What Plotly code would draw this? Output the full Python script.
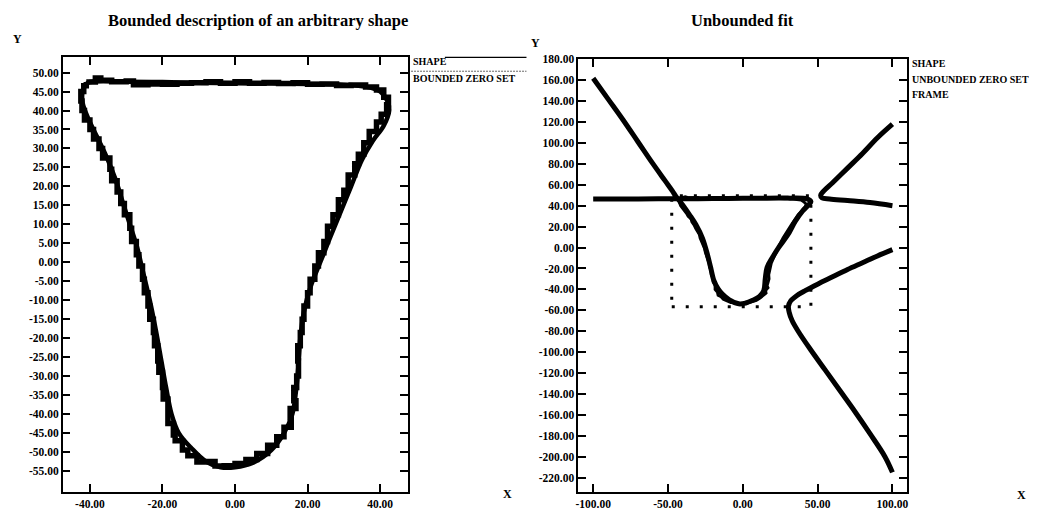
import plotly.graph_objects as go

W, H = 1043, 512

# ---- left panel: sampled boundary of the shape (stepped, noisy) ----
shape_x = [-41, -38.5, -37, -34, -30, -28, -24, -20, -16, -12, -8, -4, 0, 4, 8, 12, 16, 20, 24, 28,
           32, 36, 39, 41, 42.3, 41.8, 40.3, 39, 37, 35.5, 34, 33, 31.2, 30, 28.5, 27, 25.5, 24.5,
           23, 22, 20.7, 20, 19, 18.5, 18, 17.3, 17.5, 17, 16.2, 16.8, 15.2, 15.5, 13.5, 11.5, 9,
           6, 3, 0, -3, -5.5, -8, -10.5, -13, -14.5, -16.5, -17, -18.5, -18.5, -19.8, -20, -21,
           -21.3, -22.2, -22.5, -23.5, -24, -25, -25.5, -26.5, -27.2, -28.5, -29, -30.5, -31.5,
           -32.5, -34, -34.5, -36.5, -37.5, -39, -40, -41.5, -42.2, -42.5, -41.7, -41]
shape_y = [47.5, 48.6, 48, 47.6, 47.8, 46.8, 47, 46.9, 47.2, 47.3, 47.6, 47.2, 47.6, 47.2, 47.4,
           47.1, 47.3, 46.9, 47, 46.6, 46.7, 46.2, 45.4, 43.5, 41.5, 39, 37, 34.5, 31.5, 28.5, 26,
           23, 19, 16.5, 12.5, 9.5, 5.5, 2.5, -1, -4.5, -8, -11.5, -15, -18.5, -22, -26, -30, -33,
           -36.5, -38.5, -41, -43.5, -46, -48.2, -50.4, -52, -53, -53.6, -53.7, -52.5, -52.6, -51,
           -49.5, -47, -45.5, -42.5, -40, -36, -33, -29, -26, -22, -18.5, -15, -11.5, -8, -4.5,
           -1, 2, 5.5, 9, 12.5, 15.5, 18.5, 21.5, 24.5, 27.5, 30, 32.5, 35, 37.5, 40, 42.5, 45,
           46.5, 47.5]

# ---- left panel: smooth bounded zero set ----
zero_x = [-40, -30, -20, -10, 0, 10, 20, 30, 36, 40, 42, 42.5, 41, 38, 35, 32, 29, 26, 23.5, 21,
          19, 18, 17.5, 16.8, 15.8, 13.5, 10, 5, 0, -4, -8, -12, -15.5, -17.5, -19, -20.3, -21.8,
          -23.5, -25.5, -27, -29, -31, -33, -35.5, -38, -40.5, -42, -42, -41, -40]
zero_y = [47.5, 47.6, 47.5, 47.3, 47.2, 47.1, 47, 46.8, 46.3, 45, 42.5, 40, 36, 32, 27, 20, 13, 6,
          0, -6, -13, -20, -27, -34, -40, -45, -49.5, -52.8, -54, -54, -52.5, -49, -45, -40, -33,
          -26, -18, -10, -2, 4, 10, 16, 22, 28, 33, 38, 42, 45, 47, 47.5]

# ---- right panel: unbounded zero set, three branches ----
branch_a_x = [-100, -90, -80, -70, -60, -52, -47, -44.7, -40.3, -35, -31.4, -27, -23.7, -21.5,
              -19.3, -16.5, -13.7, -9, -2.7, 2, 6.2, 11, 14, 15, 16.2, 20, 23.9, 30, 35, 40, 44,
              45.5, 43, 30, 10, -10, -30, -50, -70, -100]
branch_a_y = [162, 142, 122, 101, 80, 64, 54, 48.8, 41, 30, 22, 9, -6.4, -19, -31.7, -39.5, -44.4,
              -50, -53.8, -53, -50.7, -47, -41.2, -30, -19, -9, 0, 12, 25, 35, 41, 44, 46.5, 47.3,
              47.2, 47, 46.8, 46.7, 46.5, 46.4]
branch_b_x = [100, 90, 80, 70, 60, 54, 52, 53, 58, 70, 85, 100]
branch_b_y = [118, 105, 90, 76, 62, 54, 50, 47.5, 46.5, 45, 43, 40]
branch_c_x = [100, 90, 80, 70, 60, 50, 42, 36, 32, 30.5, 31, 33, 37, 45, 55, 65, 75, 85, 95, 100]
branch_c_y = [-2, -8, -14.5, -21, -28, -35, -41, -46, -51, -56, -62, -70, -80, -97, -117, -137,
              -157, -178, -200, -215]

# ---- right panel: bounding frame ----
frame_x = [-47.5, 45.5, 45.5, -47.5, -47.5]
frame_y = [-56.5, -56.5, 49.5, 49.5, -56.5]

# ---- tick values ----
left_xticks = [-40, -20, 0, 20, 40]
left_yticks = [50, 45, 40, 35, 30, 25, 20, 15, 10, 5, 0, -5, -10, -15, -20, -25, -30, -35, -40,
               -45, -50, -55]
right_xticks = [-100, -50, 0, 50, 100]
right_yticks = [180, 160, 140, 120, 100, 80, 60, 40, 20, 0, -20, -40, -60, -80, -100, -120, -140,
                -160, -180, -200, -220]


def fmt(vals):
    return [f"{v:.2f}" for v in vals]


def px_x(p):
    return p / W


def px_y(p):
    return 1 - p / H


FONT = "Liberation Serif"
BLACK = "#000000"

fig = go.Figure()

fig.add_trace(go.Scatter(x=shape_x, y=shape_y, mode="lines", line=dict(color=BLACK, width=5.5, shape="hv"),
                         xaxis="x", yaxis="y", showlegend=False))
fig.add_trace(go.Scatter(x=zero_x, y=zero_y, mode="lines", line=dict(color=BLACK, width=4.5, shape="spline"),
                         xaxis="x", yaxis="y", showlegend=False))

fig.add_trace(go.Scatter(x=shape_x, y=shape_y, mode="lines", line=dict(color=BLACK, width=3),
                         xaxis="x2", yaxis="y2", showlegend=False))
for bx, by in [(branch_a_x, branch_a_y), (branch_b_x, branch_b_y), (branch_c_x, branch_c_y)]:
    fig.add_trace(go.Scatter(x=bx, y=by, mode="lines", line=dict(color=BLACK, width=5, shape="spline"),
                             xaxis="x2", yaxis="y2", showlegend=False))
fig.add_trace(go.Scatter(x=frame_x, y=frame_y, mode="lines",
                         line=dict(color=BLACK, width=3, dash="3px,11px"),
                         xaxis="x2", yaxis="y2", showlegend=False))

axis_common = dict(
    showline=True, linecolor=BLACK, linewidth=1.5, mirror="ticks", ticks="inside", ticklen=8,
    tickcolor=BLACK, tickwidth=1.5, showgrid=False, zeroline=False,
    tickfont=dict(family=FONT, size=11.5, color=BLACK, weight="bold"),
)

fig.update_layout(
    width=W, height=H, margin=dict(l=0, r=0, t=0, b=0),
    paper_bgcolor="white", plot_bgcolor="white",
    xaxis=dict(domain=[px_x(60), px_x(407)], range=[-47.5, 47.7], anchor="y",
               tickvals=left_xticks, ticktext=fmt(left_xticks), **axis_common),
    yaxis=dict(domain=[px_y(492), px_y(52)], range=[-60.6, 54], anchor="x",
               tickvals=left_yticks, ticktext=fmt(left_yticks), **axis_common),
    xaxis2=dict(domain=[px_x(578), px_x(908)], range=[-110, 109.5], anchor="y2",
                tickvals=right_xticks, ticktext=fmt(right_xticks), **axis_common),
    yaxis2=dict(domain=[px_y(492), px_y(54)], range=[-234, 180], anchor="x2",
                tickvals=right_yticks, ticktext=fmt(right_yticks), **axis_common),
)

title_font = dict(family=FONT, size=16.5, color=BLACK, weight="bold")
label_font = dict(family=FONT, size=12, color=BLACK, weight="bold")
legend_font = dict(family=FONT, size=10, color=BLACK, weight="bold")

annotations = [
    dict(text="Bounded description of an arbitrary shape", x=px_x(256), y=px_y(15), font=title_font,
         xanchor="center", yanchor="middle"),
    dict(text="Unbounded fit", x=px_x(743), y=px_y(15), font=title_font, xanchor="center", yanchor="middle"),
    dict(text="Y", x=px_x(15), y=px_y(33), font=label_font, xanchor="center", yanchor="middle"),
    dict(text="Y", x=px_x(535), y=px_y(37), font=label_font, xanchor="center", yanchor="middle"),
    dict(text="X", x=px_x(507), y=px_y(494), font=label_font, xanchor="center", yanchor="middle"),
    dict(text="X", x=px_x(1023), y=px_y(495), font=label_font, xanchor="center", yanchor="middle"),
    dict(text="SHAPE", x=px_x(410), y=px_y(56), font=legend_font, xanchor="left", yanchor="middle"),
    dict(text="BOUNDED ZERO SET", x=px_x(410), y=px_y(73), font=legend_font, xanchor="left", yanchor="middle"),
    dict(text="SHAPE", x=px_x(911), y=px_y(58), font=legend_font, xanchor="left", yanchor="middle"),
    dict(text="UNBOUNDED ZERO SET", x=px_x(911), y=px_y(74), font=legend_font, xanchor="left", yanchor="middle"),
    dict(text="FRAME", x=px_x(911), y=px_y(90), font=legend_font, xanchor="left", yanchor="middle"),
]
for a in annotations:
    a.update(xref="paper", yref="paper", showarrow=False)
fig.update_layout(annotations=annotations)

# legend sample lines beside the left panel
fig.add_shape(type="line", xref="paper", yref="paper", x0=px_x(444), x1=px_x(526), y0=px_y(52), y1=px_y(52),
              line=dict(color=BLACK, width=1.2))
fig.add_shape(type="line", xref="paper", yref="paper", x0=px_x(410), x1=px_x(526), y0=px_y(66), y1=px_y(66),
              line=dict(color="#666666", width=1, dash="2px,1px"))

fig.write_html("out.html")
